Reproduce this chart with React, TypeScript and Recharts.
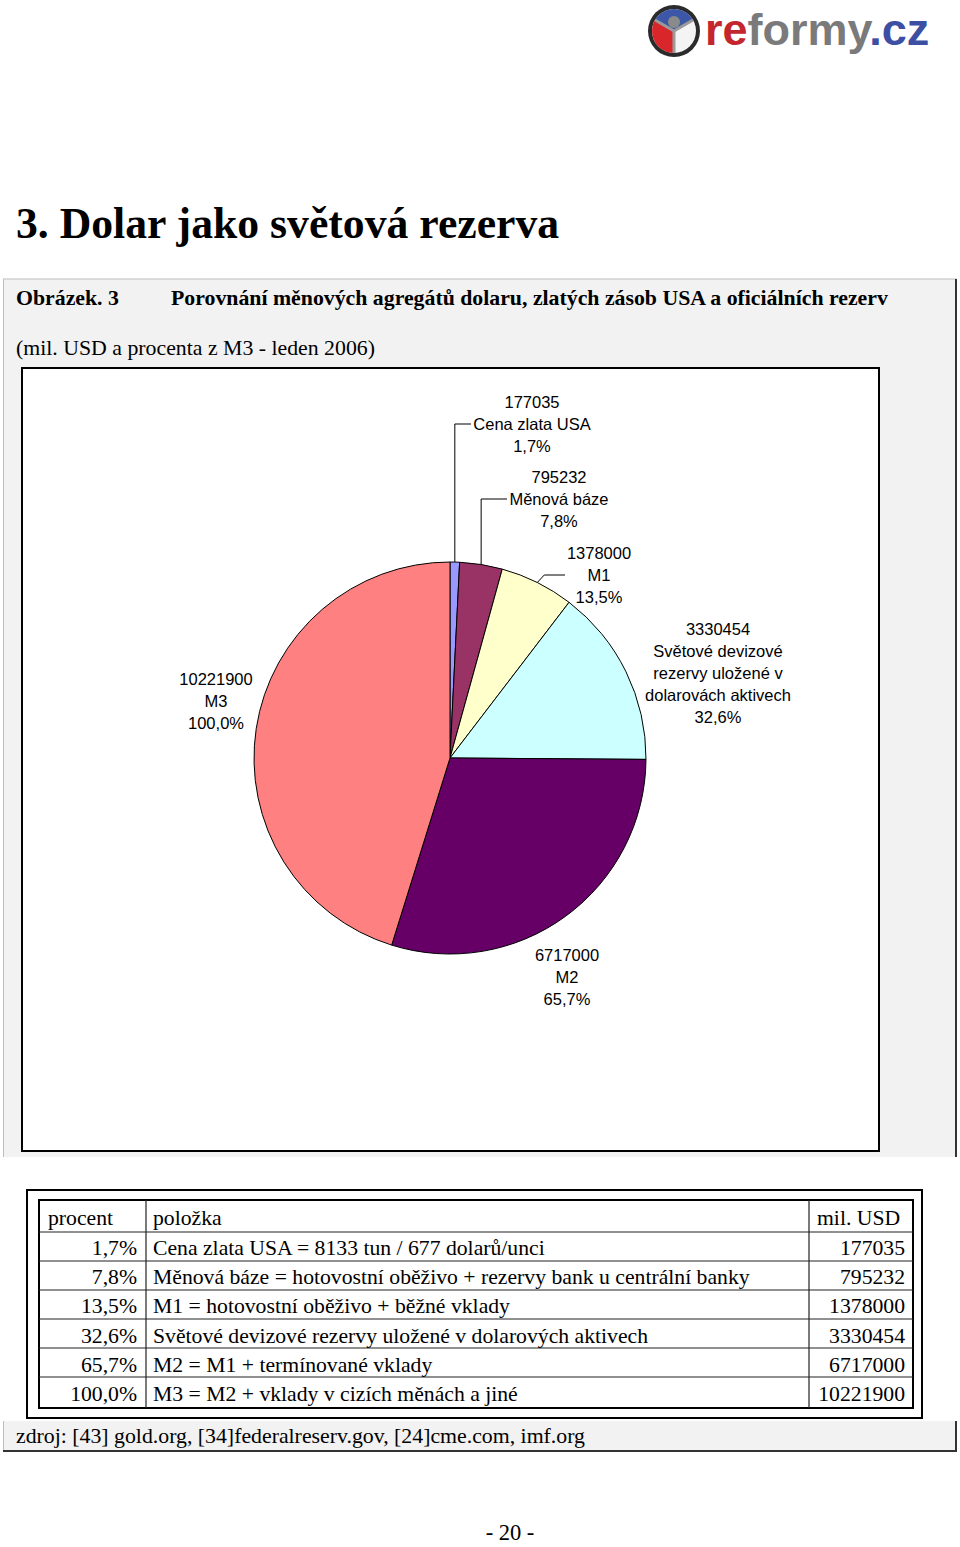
import { PieChart, Pie, Cell } from 'recharts';

// values in mil. USD
const categories = ['Cena zlata USA', 'Měnová báze', 'M1', 'Světové devizové rezervy', 'M2', 'M3'];
const values = [177035, 795232, 1378000, 3330454, 6717000, 10221900];
const labelNames = [
  ['Cena zlata USA'],
  ['Měnová báze'],
  ['M1'],
  ['Světové devizové', 'rezervy uložené v', 'dolarovách aktivech'],
  ['M2'],
  ['M3'],
];
const tableItems = [
  'Cena zlata USA = 8133 tun / 677 dolarů/unci',
  'Měnová báze = hotovostní oběživo + rezervy bank u centrální banky',
  'M1 = hotovostní oběživo + běžné vklady',
  'Světové devizové rezervy uložené v dolarových aktivech',
  'M2 = M1 + termínované vklady',
  'M3 = M2 + vklady v cizích měnách a jiné',
];
const sliceColors = ['#9999FF', '#993366', '#FFFFCC', '#CCFFFF', '#660066', '#FF8080'];

// percent of M3
const m3 = values[values.length - 1];
const shares = values.map((v) => (v / m3 * 100).toFixed(1).replace('.', ',') + '%');

const pieData = categories.map((name, i) => ({ name, value: values[i] }));

// label placement relative to the pie centre, Excel style
const labelLayout = [
  { dx: 82, dy: -334, leader: { bendDx: 0, endDx: -61 } },
  { dx: 109, dy: -259, leader: { bendDx: 0, endDx: -52 } },
  { dx: 149, dy: -183, leader: { bendDx: 7, endDx: -34 } },
  { dx: 268, dy: -85 },
  { dx: 117, dy: 219 },
  { dx: -234, dy: -57 },
];

const SERIF = "'Liberation Serif', 'Times New Roman', serif";
const SANS = "'Liberation Sans', Arial, sans-serif";
const RAD = Math.PI / 180;

const renderLabel = (props: any) => {
  const { cx, cy, midAngle, outerRadius, index } = props;
  const lay = labelLayout[index];
  const lines = [String(values[index]), ...labelNames[index], shares[index]];
  const lx = cx + lay.dx;
  const ly = cy + lay.dy;
  const lh = 22;
  const top = ly - ((lines.length - 1) / 2) * lh;
  let leader = null;
  if (lay.leader) {
    const px = cx + outerRadius * Math.cos(-midAngle * RAD);
    const py = cy + outerRadius * Math.sin(-midAngle * RAD);
    const bx = px + lay.leader.bendDx;
    leader = (
      <polyline
        points={`${px},${py} ${bx},${ly} ${lx + lay.leader.endDx},${ly}`}
        fill="none"
        stroke="#000"
        strokeWidth={1}
      />
    );
  }
  return (
    <g key={'lbl' + index}>
      {leader}
      <text textAnchor="middle" fontFamily={SANS} fontSize={16.5} fill="#000">
        {lines.map((t, i) => (
          <tspan key={i} x={lx} y={top + i * lh + 6}>
            {t}
          </tspan>
        ))}
      </text>
    </g>
  );
};

const Logo = () => (
  <g>
    <circle cx={674} cy={31} r={26} fill="#2b2b2b" />
    <circle cx={674} cy={31} r={22} fill="#f4f4f4" />
    <path d="M674,31 L655,20 A22,22 0 0 1 693,20 Z" fill="#3C57A8" />
    <path d="M674,31 L674,53 A22,22 0 0 1 655,20 Z" fill="#D8262B" />
    <line x1={674} y1={31} x2={674} y2={53} stroke="#9a9a9a" strokeWidth={3} />
    <line x1={674} y1={31} x2={655} y2={20} stroke="#9a9a9a" strokeWidth={3} />
    <line x1={674} y1={31} x2={693} y2={20} stroke="#9a9a9a" strokeWidth={3} />
    <circle cx={674} cy={22} r={6} fill="#8a8a8a" />
    <text x={705} y={45} fontFamily={SANS} fontWeight="bold" fontSize={45}>
      <tspan fill="#C4262E">re</tspan>
      <tspan fill="#7A7A7A">formy</tspan>
      <tspan fill="#3D4FA3">.cz</tspan>
    </text>
  </g>
);

const rowLines = [1232, 1261, 1290, 1319, 1348, 1377];

const Page = () => (
  <svg width={960} height={1547} style={{ position: 'absolute', left: 0, top: 0 }}>
    <Logo />
    <text x={16} y={238} fontFamily={SERIF} fontWeight="bold" fontSize={43.7} fill="#000">
      3. Dolar jako světová rezerva
    </text>

    {/* grey frame of the figure */}
    <rect x={3} y={279} width={954} height={878} fill="#F2F2F2" />
    <line x1={3} y1={279} x2={957} y2={279} stroke="#bdbdbd" />
    <line x1={3.5} y1={279} x2={3.5} y2={1157} stroke="#bdbdbd" />
    <line x1={956} y1={279} x2={956} y2={1157} stroke="#333" strokeWidth={2} />
    <text x={16} y={305} fontFamily={SERIF} fontWeight="bold" fontSize={21.8}>
      Obrázek. 3
    </text>
    <text x={171} y={305} fontFamily={SERIF} fontWeight="bold" fontSize={21.8}>
      Porovnání měnových agregátů dolaru, zlatých zásob USA a oficiálních rezerv
    </text>
    <text x={16} y={355} fontFamily={SERIF} fontSize={21.8}>
      (mil. USD a procenta z M3 - leden 2006)
    </text>

    {/* table */}
    <rect x={27} y={1190} width={895} height={228} fill="#fff" stroke="#000" strokeWidth={2} />
    <rect x={39} y={1200} width={874} height={208} fill="#fff" stroke="#000" strokeWidth={2} />
    {rowLines.map((y) => (
      <line key={y} x1={39} y1={y} x2={913} y2={y} stroke="#222" strokeWidth={1.2} />
    ))}
    <line x1={146} y1={1200} x2={146} y2={1408} stroke="#222" strokeWidth={1.2} />
    <line x1={809} y1={1200} x2={809} y2={1408} stroke="#222" strokeWidth={1.2} />
    <g fontFamily={SERIF} fontSize={21.7} fill="#000">
      <text x={48} y={1225}>procent</text>
      <text x={153} y={1225}>položka</text>
      <text x={817} y={1225}>mil. USD</text>
      {tableItems.map((t, i) => (
        <g key={i}>
          <text x={137} y={1255 + i * 29.2} textAnchor="end">
            {shares[i]}
          </text>
          <text x={153} y={1255 + i * 29.2}>{t}</text>
          <text x={905} y={1255 + i * 29.2} textAnchor="end">
            {values[i]}
          </text>
        </g>
      ))}
    </g>

    {/* source box */}
    <rect x={3} y={1421} width={954} height={30} fill="#F2F2F2" />
    <line x1={3.5} y1={1421} x2={3.5} y2={1451} stroke="#bdbdbd" />
    <line x1={3} y1={1451} x2={957} y2={1451} stroke="#333" strokeWidth={2} />
    <line x1={956} y1={1421} x2={956} y2={1452} stroke="#333" strokeWidth={2} />
    <text x={16} y={1443} fontFamily={SERIF} fontSize={21.8}>
      zdroj: [43] gold.org, [34]federalreserv.gov, [24]cme.com, imf.org
    </text>

    <text x={510} y={1540} textAnchor="middle" fontFamily={SERIF} fontSize={22.5}>
      - 20 -
    </text>
  </svg>
);

export default function App() {
  return (
    <div
      style={{
        position: 'absolute',
        left: 0,
        top: 0,
        width: 960,
        height: 1547,
        background: '#fff',
        overflow: 'hidden',
      }}
    >
      <Page />
      <div
        style={{
          position: 'absolute',
          left: 21,
          top: 367,
          width: 859,
          height: 785,
          border: '2px solid #000',
          boxSizing: 'border-box',
          background: '#fff',
        }}
      />
      <div style={{ position: 'absolute', left: 21, top: 367, width: 859, height: 785 }}>
        <PieChart width={859} height={785} margin={{ top: 0, right: 0, bottom: 0, left: 0 }}>
          <Pie
            data={pieData}
            dataKey="value"
            nameKey="name"
            cx={429}
            cy={391}
            outerRadius={196}
            startAngle={90}
            endAngle={-270}
            stroke="#000"
            strokeWidth={1}
            isAnimationActive={false}
            label={renderLabel}
            labelLine={false}
          >
            {pieData.map((d, i) => (
              <Cell key={d.name} fill={sliceColors[i]} />
            ))}
          </Pie>
        </PieChart>
      </div>
    </div>
  );
}
